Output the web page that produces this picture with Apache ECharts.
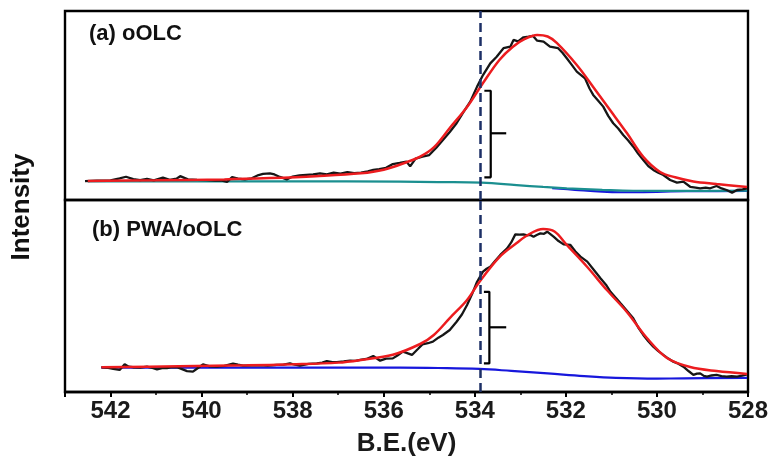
<!DOCTYPE html>
<html>
<head>
<meta charset="utf-8">
<script src="https://cdn.jsdelivr.net/npm/echarts@6/dist/echarts.min.js"></script>
<style>
  html, body { margin: 0; padding: 0; background: #fff; }
  #chart { width: 774px; height: 465px; }
</style>
</head>
<body>
<div id="chart"></div>
<script>
// O 1s XPS spectra, binding energy (eV) vs intensity (arb. units)

const beTicks = [528, 530, 532, 534, 536, 538, 540, 542];
const markerEnergy = 533.88;

// (a) oOLC — measured spectrum
const rawA = [
  [542.56, 10.0], [542.3, 10.2], [542.0, 10.4], [541.8, 11.4], [541.66, 12.3], [541.5, 11.0],
  [541.35, 10.5], [541.2, 11.2], [541.05, 10.4], [540.85, 11.8], [540.7, 10.6], [540.55, 11.3],
  [540.47, 12.6], [540.3, 10.9], [540.1, 10.6], [539.9, 10.5], [539.7, 10.2], [539.55, 10.3],
  [539.44, 9.6], [539.33, 12.1], [539.2, 11.3], [539.05, 10.9], [538.9, 11.5], [538.75, 13.2],
  [538.65, 13.8], [538.5, 14.1], [538.4, 13.5], [538.28, 12.2], [538.13, 10.9], [538.0, 12.4],
  [537.85, 13.0], [537.7, 13.3], [537.55, 13.6], [537.4, 14.1], [537.25, 13.6], [537.1, 14.5],
  [536.95, 14.0], [536.8, 14.8], [536.65, 14.2], [536.5, 14.5], [536.35, 15.2], [536.23, 15.9],
  [536.1, 16.3], [535.95, 17.0], [535.8, 19.0], [535.65, 19.6], [535.5, 20.3], [535.42, 17.8],
  [535.3, 21.9], [535.15, 23.0], [535.0, 23.8], [534.85, 27.5], [534.7, 31.7], [534.55, 36.0],
  [534.4, 40.6], [534.25, 46.5], [534.1, 52.0], [533.95, 60.0], [533.82, 66.1], [533.66, 72.3],
  [533.52, 75.8], [533.37, 80.3], [533.22, 81.1], [533.15, 84.7], [533.05, 83.9], [532.93, 86.1],
  [532.82, 86.4], [532.72, 86.8], [532.63, 84.3], [532.49, 83.8], [532.35, 81.1], [532.17, 80.3],
  [532.07, 77.8], [531.98, 75.0], [531.87, 71.5], [531.76, 67.9], [531.58, 64.4], [531.48, 59.0],
  [531.4, 55.6], [531.28, 52.3], [531.18, 49.4], [531.07, 44.5], [530.96, 40.6], [530.85, 37.8],
  [530.74, 34.4], [530.63, 31.5], [530.52, 28.2], [530.41, 24.4], [530.3, 21.2], [530.19, 18.0],
  [530.08, 15.9], [529.97, 14.4], [529.86, 13.2], [529.71, 10.6], [529.56, 9.2], [529.42, 9.7],
  [529.27, 7.0], [529.15, 6.6], [529.05, 6.2], [528.93, 6.5], [528.83, 6.2], [528.69, 7.4],
  [528.58, 6.1], [528.47, 5.3], [528.35, 3.9], [528.24, 5.3], [528.12, 5.6], [528.02, 6.2]
];

// (a) fitted envelope
const fitA = [
  [542.5, 10.1], [541, 10.4], [539.5, 10.9], [538.5, 11.6], [537.5, 12.6], [536.5, 14.1],
  [536.0, 16.0], [535.5, 20.0], [535.2, 22.9], [534.9, 27.8], [534.55, 38.1], [534.17, 49.2],
  [533.82, 61.9], [533.46, 74.1], [533.17, 81.0], [532.9, 85.2], [532.63, 87.3], [532.4, 86.5],
  [532.2, 83.1], [531.76, 71.4], [531.4, 59.8], [531.03, 47.6], [530.66, 35.4], [530.3, 22.8],
  [529.93, 14.8], [529.6, 12.0], [529.2, 9.8], [528.69, 8.5], [528.02, 6.9]
];

// (a) background
const baseA = [
  [542.5, 9.9], [538.0, 9.9], [535.64, 9.7], [534.8, 9.5], [533.85, 9.2], [533.08, 7.9],
  [532.5, 6.9], [531.98, 6.2], [531.2, 5.4], [530.52, 4.9], [529.5, 4.8], [528.02, 4.9]
];

// (a) minor low-energy component
const compA = [
  [532.3, 6.3], [531.8, 5.4], [531.2, 4.4], [530.8, 4.1], [530.3, 4.2], [529.7, 4.5],
  [529.0, 4.7], [528.02, 4.8]
];

// (b) PWA/oOLC — measured spectrum
const rawB = [
  [542.2, 12.9], [542.05, 12.6], [541.94, 12.0], [541.8, 11.5], [541.69, 14.4], [541.6, 13.2],
  [541.51, 12.9], [541.35, 12.7], [541.2, 13.2], [541.08, 12.5], [540.98, 11.8], [540.87, 12.4],
  [540.76, 12.4], [540.65, 12.9], [540.54, 12.9], [540.43, 11.9], [540.32, 10.9], [540.19, 10.6],
  [540.08, 12.5], [539.97, 14.4], [539.82, 13.4], [539.66, 13.2], [539.5, 13.6], [539.31, 14.8],
  [539.2, 14.2], [539.09, 13.7], [538.9, 13.9], [538.72, 14.0], [538.55, 13.7], [538.35, 14.1],
  [538.2, 14.3], [538.06, 14.9], [537.95, 14.2], [537.84, 13.8], [537.65, 14.6], [537.47, 14.9],
  [537.35, 15.3], [537.25, 16.1], [537.13, 15.5], [537.03, 15.6], [536.88, 15.9], [536.74, 16.3],
  [536.62, 16.2], [536.52, 16.7], [536.38, 17.2], [536.23, 18.75], [536.08, 16.3], [535.95, 17.4],
  [535.8, 17.5], [535.7, 19.0], [535.58, 21.0], [535.5, 20.4], [535.38, 19.3], [535.25, 22.4],
  [535.15, 24.8], [535.03, 25.4], [534.92, 26.2], [534.8, 28.3], [534.7, 29.7], [534.55, 32.3],
  [534.4, 36.6], [534.28, 40.5], [534.17, 45.3], [534.06, 51.0], [533.95, 57.4], [533.82, 62.7],
  [533.74, 64.2], [533.66, 65.3], [533.55, 68.4], [533.44, 71.4], [533.29, 74.8], [533.2, 77.9],
  [533.11, 82.1], [533.02, 82.0], [532.93, 82.1], [532.85, 81.6], [532.78, 81.8], [532.71, 80.9],
  [532.63, 81.9], [532.56, 82.6], [532.48, 82.4], [532.41, 83.5], [532.34, 82.2], [532.27, 80.9],
  [532.16, 78.6], [532.05, 76.9], [531.9, 76.6], [531.79, 73.2], [531.68, 70.5], [531.53, 67.9],
  [531.38, 63.4], [531.24, 59.2], [531.12, 55.9], [531.02, 52.2], [530.9, 49.0], [530.8, 46.2],
  [530.66, 42.3], [530.52, 38.4], [530.41, 33.6], [530.3, 29.7], [530.19, 26.4], [530.08, 23.6],
  [529.97, 21.3], [529.86, 19.3], [529.75, 17.4], [529.64, 15.8], [529.53, 14.7], [529.42, 13.2],
  [529.3, 10.8], [529.2, 8.9], [529.12, 9.6], [529.05, 9.7], [528.97, 8.4], [528.9, 8.0],
  [528.8, 8.6], [528.69, 8.9], [528.58, 8.3], [528.47, 8.0], [528.36, 8.2], [528.24, 8.0],
  [528.13, 8.5], [528.02, 9.2]
];

// (b) fitted envelope
const fitB = [
  [542.2, 12.9], [540.5, 13.4], [539.0, 13.9], [538.0, 14.4], [537.0, 15.3], [536.5, 16.7],
  [535.8, 19.4], [535.2, 25.0], [534.9, 29.7], [534.55, 38.5], [534.17, 47.9], [533.9, 57.3],
  [533.46, 70.3], [533.08, 77.6], [532.8, 82.3], [532.5, 84.9], [532.25, 83.6], [531.98, 76.6],
  [531.53, 65.1], [531.1, 53.1], [530.66, 41.7], [530.22, 28.1], [529.78, 17.7], [529.27, 13.0],
  [528.69, 10.9], [528.02, 9.4]
];

// (b) background
const baseB = [
  [542.2, 12.7], [538.0, 12.7], [535.64, 12.7], [534.8, 12.5], [533.9, 12.0], [533.2, 11.0],
  [532.4, 9.7], [531.6, 8.3], [530.9, 7.4], [530.0, 7.0], [529.4, 7.1], [528.02, 7.4]
];

// brackets marking the shoulder height next to the reference line
const bracketA = [[533.79, 57.8], [533.65, 57.8], [533.65, 12.0], [533.79, 12.0]];
const bracketTickA = [[533.65, 35.3], [533.31, 35.3]];
const bracketB = [[533.80, 52.2], [533.68, 52.2], [533.68, 14.9], [533.80, 14.9]];
const bracketTickB = [[533.68, 33.7], [533.31, 33.7]];

const FONT = '"Liberation Sans", Arial, Helvetica, sans-serif';
const C_RAW = '#161616', C_FIT = '#ec1c1f', C_TEAL = '#1b8f90', C_BLUE = '#1717dc', C_DASH = '#1c2f66';

function lineSeries(data, color, width, panel, extra) {
  return Object.assign({
    type: 'line', data: data, xAxisIndex: panel, yAxisIndex: panel,
    showSymbol: false, symbol: 'none', silent: true, animation: false,
    lineStyle: { color: color, width: width }
  }, extra || {});
}

function dashedMarker() {
  return {
    silent: true, symbol: 'none', animation: false,
    label: { show: false },
    lineStyle: { color: C_DASH, width: 2.5, type: [9, 5] },
    data: [{ xAxis: markerEnergy }]
  };
}

const chart = echarts.init(document.getElementById('chart'), null, { renderer: 'canvas' });

chart.setOption({
  backgroundColor: '#ffffff',
  animation: false,
  grid: [
    { left: 65, right: 26, top: 11, height: 189, show: true, borderColor: '#000', borderWidth: 2.4, backgroundColor: 'transparent' },
    { left: 65, right: 26, top: 200, height: 192, show: true, borderColor: '#000', borderWidth: 2.4, backgroundColor: 'transparent' }
  ],
  xAxis: [
    { gridIndex: 0, type: 'value', min: 528, max: 543, inverse: true, show: false },
    {
      gridIndex: 1, type: 'value', min: 528, max: 543, interval: 2, inverse: true,
      axisLine: { show: true, onZero: false, lineStyle: { color: '#000', width: 2.4 } },
      axisTick: { show: true, length: 5, lineStyle: { color: '#000', width: 2 } },
      minorTick: { show: true, splitNumber: 2, length: 3, lineStyle: { color: '#000', width: 1.5 } },
      splitLine: { show: false },
      axisLabel: {
        show: true, margin: 7, color: '#1a1a1a', fontFamily: FONT, fontWeight: 'bold', fontSize: 24,
        showMaxLabel: false,
        formatter: function (v) { return beTicks.indexOf(v) >= 0 ? String(v) : ''; }
      },
      name: 'B.E.(eV)', nameLocation: 'middle', nameGap: 39,
      nameTextStyle: { color: '#1a1a1a', fontFamily: FONT, fontWeight: 'bold', fontSize: 26 }
    }
  ],
  yAxis: [
    { gridIndex: 0, type: 'value', min: 0, max: 100, show: false },
    { gridIndex: 1, type: 'value', min: 0, max: 100, show: false }
  ],
  graphic: [
    {
      type: 'text', left: 89, top: 23, silent: true,
      style: { text: '(a) oOLC', fill: '#111', font: 'bold 22px ' + FONT }
    },
    {
      type: 'text', left: 92, top: 219, silent: true,
      style: { text: '(b) PWA/oOLC', fill: '#111', font: 'bold 22px ' + FONT }
    },
    {
      type: 'text', x: 22, y: 207, rotation: Math.PI / 2, silent: true,
      style: { text: 'Intensity', fill: '#111', font: 'bold 26px ' + FONT, align: 'center', verticalAlign: 'middle' }
    }
  ],
  series: [
    // panel (a)
    lineSeries(compA, C_BLUE, 2.2, 0, { smooth: 0.4 }),
    lineSeries(baseA, C_TEAL, 2.2, 0, { smooth: 0.4 }),
    lineSeries(rawA, C_RAW, 2.3, 0),
    lineSeries(fitA, C_FIT, 2.5, 0, { smooth: 0.35 }),
    lineSeries(bracketA, '#000', 2.2, 0),
    lineSeries(bracketTickA, '#000', 2.2, 0, { markLine: dashedMarker() }),
    // panel (b)
    lineSeries(baseB, C_BLUE, 2.2, 1, { smooth: 0.4 }),
    lineSeries(rawB, C_RAW, 2.3, 1),
    lineSeries(fitB, C_FIT, 2.5, 1, { smooth: 0.35 }),
    lineSeries(bracketB, '#000', 2.2, 1),
    lineSeries(bracketTickB, '#000', 2.2, 1, { markLine: dashedMarker() })
  ]
});
</script>
</body>
</html>
